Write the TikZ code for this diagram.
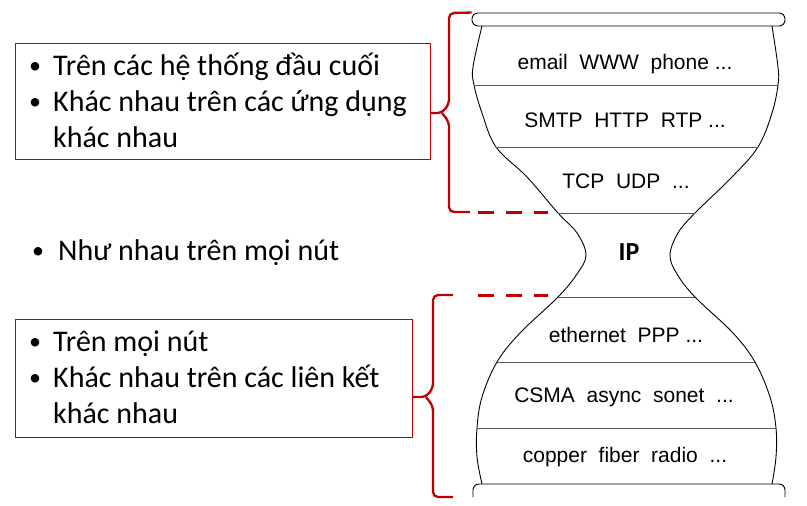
\documentclass[tikz,border=0pt]{standalone}
\usepackage{fontspec}
\setmainfont{Carlito}
\newfontfamily\hfont{Liberation Sans}
\definecolor{myred}{HTML}{C00000}
\newcommand\mybul[1]{\makebox[#1][l]{\hspace*{1pt}\raisebox{1.5pt}{\fontsize{24}{24}\selectfont •}}}
\begin{document}
\begin{tikzpicture}[x=1pt,y=-1pt,
  redbox/.style={draw=myred,line width=1pt,inner sep=0pt,anchor=north west},
  btext/.style={anchor=base west,align=left,inner sep=0pt,font=\fontsize{30}{36}\selectfont},
  layer/.style={anchor=base,inner sep=0pt,font=\hfont\fontsize{21}{24}\selectfont},
  outline/.style={draw=black,line width=0.9pt},
  sep/.style={draw=black!65,line width=0.8pt},
  brace/.style={draw=myred,line width=2.3pt,rounded corners=5pt},
  reddash/.style={draw=myred,line width=3pt,dash pattern=on 16pt off 12pt}]
\useasboundingbox (0,0) rectangle (807,506);

% left boxes and texts (base anchor = baseline of the last line)
\node[redbox,minimum width=415pt,minimum height=116pt] (box1) at (15,43) {};
\node[btext] (t1) at (28,147) {\mybul{25pt}Trên các hệ thống đầu cuối\\\mybul{25pt}Khác nhau trên các ứng dụng\\\makebox[25pt]{}khác nhau};
\node[btext] (t2) at (31,260) {\mybul{27pt}Như nhau trên mọi nút};
\node[redbox,minimum width=397pt,minimum height=118pt] (box2) at (15,319) {};
\node[btext] (t3) at (28,423) {\mybul{25pt}Trên mọi nút\\\mybul{25pt}Khác nhau trên các liên kết\\\makebox[25pt]{}khác nhau};

% hourglass
\node[draw,line width=0.9pt,rounded corners=6pt,minimum width=313pt,minimum height=13pt,inner sep=0pt] (rimtop) at (628.5,19.5) {};
\draw[outline] plot[smooth,tension=0.6] coordinates {(482,26) (473,67) (474,85) (482,113) (496,147) (527,177) (558,213) (577,233) (586,255) (577,274) (558,297) (520,333) (497,362) (482,397) (477,428) (477,457) (482,484)};
\draw[outline] plot[smooth,tension=0.6] coordinates {(772,26) (778,67) (778,85) (772,113) (758,147) (732,177) (695,213) (678,233) (670,255) (677,274) (695,297) (733,333) (755,362) (770,397) (776,428) (776,457) (772,484)};
\draw[outline,rounded corners=6pt] (473,497) -- (473,484) -- (785,484) -- (785,497);
\draw[sep] (474,85) -- (778,85);
\draw[sep] (496,147) -- (758,147);
\draw[sep] (558,213) -- (695,213);
\draw[sep] (558,297) -- (695,297);
\draw[sep] (497,362) -- (755,362);
\draw[sep] (477,428) -- (776,428);

\node[layer] (l1) at (625,69) {email\ \ WWW\ \ phone ...};
\node[layer] (l2) at (625,127) {SMTP\ \ HTTP\ \ RTP ...};
\node[layer] (l3) at (626,188) {TCP\ \ UDP\ \ ...};
\node[layer,font=\bfseries\fontsize{26}{30}\selectfont] (ip) at (629,260) {IP};
\node[layer] (l5) at (626,342) {ethernet\ \ PPP ...};
\node[layer] (l6) at (624,402) {CSMA\ \ async\ \ sonet\ \ ...};
\node[layer] (l7) at (625,462) {copper\ \ fiber\ \ radio\ \ ...};

% braces
\coordinate (tip1) at (box1.east |- 0,113);
\coordinate (tip2) at (box2.east |- 0,397);
\draw[brace] (rimtop.north west) -- (449,13) -- (449,104) -- (442,113) -- (tip1);
\draw[brace] (442,113) -- (449,122) -- (449,212) -- (470,212);
\draw[reddash] (478,212) -- (548,212);
\draw[brace] (453,295) -- (433,295) -- (433,388) -- (426,397) -- (tip2);
\draw[brace] (426,397) -- (433,406) -- (433,497) -- (453,497);
\draw[reddash] (478,295) -- (548,295);
\end{tikzpicture}
\end{document}
